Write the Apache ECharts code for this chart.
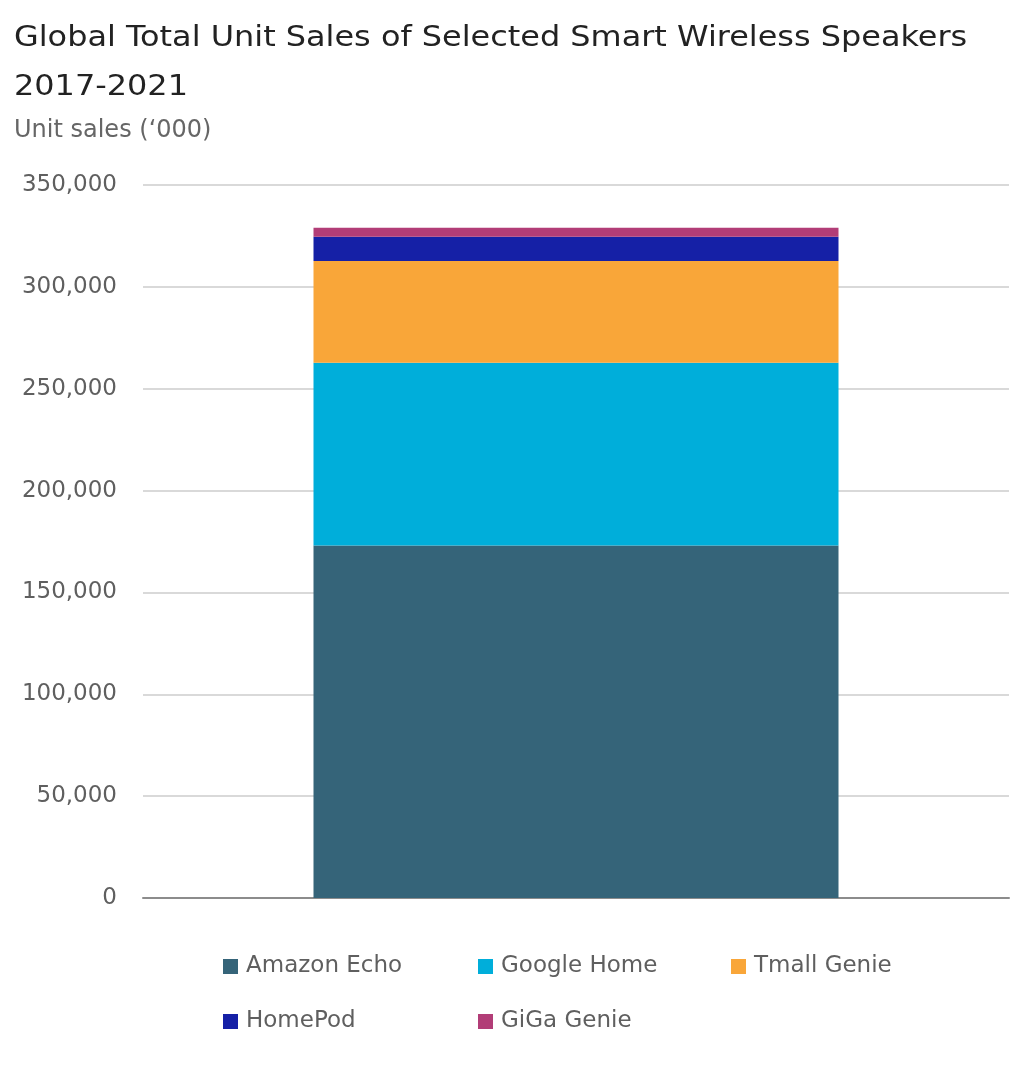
<!DOCTYPE html>
<html>
<head>
<meta charset="utf-8">
<script src="https://cdn.jsdelivr.net/npm/echarts@6/dist/echarts.min.js"></script>
<style>
html,body{margin:0;padding:0;background:#fff;}
#c{width:1024px;height:1071px;}
</style>
</head>
<body>
<div id="c"></div>
<script>
const categories = ['2017-2021'];
const seriesNames = ['Amazon Echo', 'Google Home', 'Tmall Genie', 'HomePod', 'GiGa Genie'];
const amazonEcho = [173000];
const googleHome = [89800];
const tmallGenie = [49900];
const homePod = [11900];
const gigaGenie = [4400];
const colors = ['#356479', '#00AEDA', '#F9A639', '#1520A6', '#B23D77'];
const titleText = 'Global Total Unit Sales of Selected Smart Wireless Speakers\n2017-2021';
const subtitleText = 'Unit sales (\u2018000)';

const seriesData = [amazonEcho, googleHome, tmallGenie, homePod, gigaGenie];
const FONT = 'DejaVu Sans';

const legendPos = [
  {left: 223, top: 955},
  {left: 478, top: 955},
  {left: 731, top: 955},
  {left: 223, top: 1010},
  {left: 478, top: 1010}
];

const chart = echarts.init(document.getElementById('c'));
chart.setOption({
  animation: false,
  backgroundColor: '#ffffff',
  graphic: [
    {
      type: 'text',
      x: 14, y: 14,
      scaleX: 1.14,
      style: {
        text: titleText,
        font: '28px "DejaVu Sans"',
        fill: '#222222',
        lineHeight: 49,
        verticalAlign: 'top'
      }
    }
  ],
  title: [
    {
      text: subtitleText,
      left: 14, top: 119,
      padding: 0,
      textStyle: {fontFamily: FONT, fontSize: 24, fontWeight: 'normal', color: '#666666'}
    }
  ],
  legend: seriesNames.map((n, i) => ({
    data: [n],
    left: legendPos[i].left,
    top: legendPos[i].top,
    padding: 0,
    itemWidth: 15,
    itemHeight: 15,
    icon: 'rect',
    selectedMode: false,
    textStyle: {fontFamily: FONT, fontSize: 23, color: '#5f5f5f', padding: [0, 0, 0, 3]}
  })),
  grid: {left: 143, right: 15, top: 185, bottom: 173, containLabel: false},
  xAxis: {
    type: 'category',
    data: categories,
    axisLine: {show: true, lineStyle: {color: '#8c8c8c', width: 2}},
    axisTick: {show: false},
    axisLabel: {show: false}
  },
  yAxis: {
    type: 'value',
    min: 0, max: 350000, interval: 50000,
    axisLine: {show: false},
    axisTick: {show: false},
    splitLine: {show: true, lineStyle: {color: '#d9d9d9', width: 2}},
    axisLabel: {
      fontFamily: FONT, fontSize: 23, color: '#5f5f5f', margin: 26,
      formatter: v => v.toLocaleString('en-US')
    }
  },
  series: seriesNames.map((n, i) => ({
    name: n,
    type: 'bar',
    stack: 'total',
    barWidth: 525,
    data: seriesData[i],
    itemStyle: {color: colors[i]}
  }))
});
</script>
</body>
</html>
